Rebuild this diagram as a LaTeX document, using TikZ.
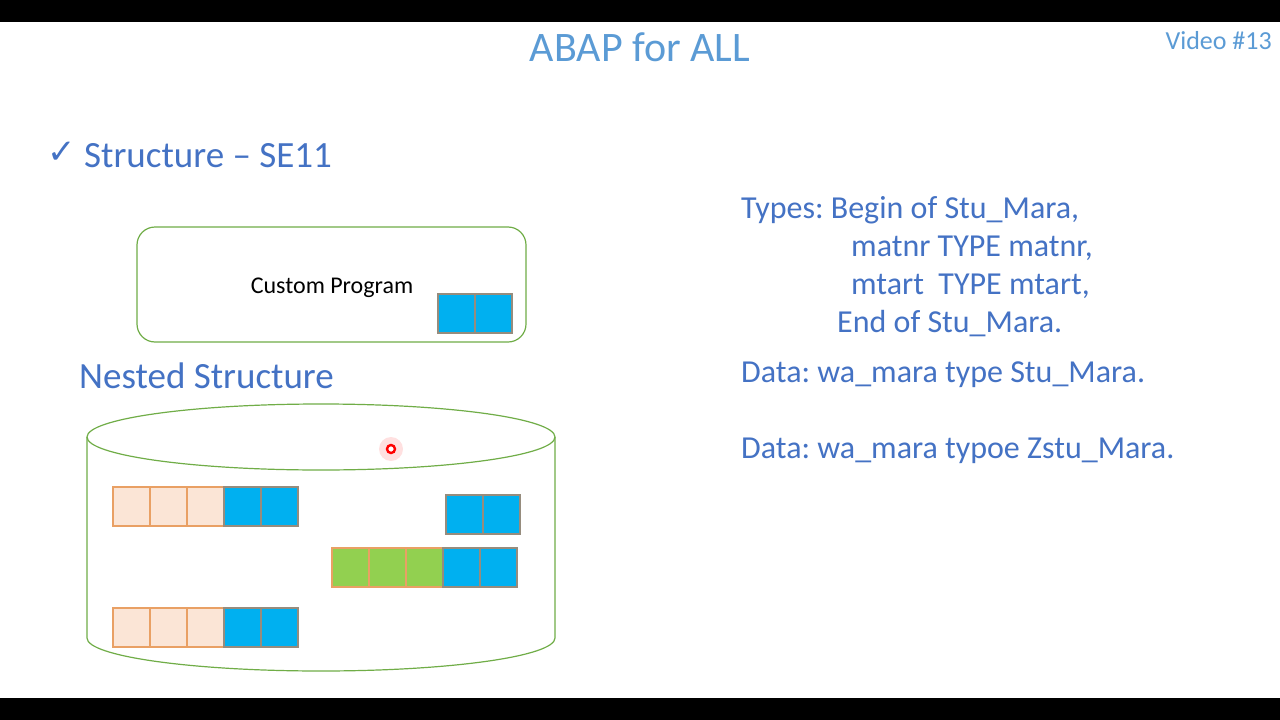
\documentclass[tikz,border=0pt]{standalone}
\usepackage{fontspec}
\setmainfont{Carlito}
\newfontfamily\symfont{DejaVu Sans}
\usetikzlibrary{positioning,shapes.geometric}
\frenchspacing

\definecolor{slideblue}{RGB}{68,114,196}
\definecolor{titleblue}{RGB}{91,155,213}
\definecolor{boxgreen}{RGB}{112,173,71}
\definecolor{cellblue}{RGB}{0,176,240}
\definecolor{cellpeach}{RGB}{251,229,214}
\definecolor{cellgreen}{RGB}{146,208,80}
\definecolor{cellorange}{RGB}{233,160,100}
\definecolor{cellgray}{RGB}{150,140,125}

\begin{document}
\begin{tikzpicture}[
        x=1pt, y=-1pt,
        cell/.style={draw, line width=1.3pt, minimum width=37pt, minimum height=39pt, inner sep=0pt, outer sep=0pt, anchor=north west},
        keycell/.style={cell, draw=cellgray, fill=cellblue},
        peachcell/.style={cell, draw=cellorange, fill=cellpeach},
        greencell/.style={cell, draw=cellorange, fill=cellgreen},
        heading/.style={font=\fontsize{37}{44}\selectfont, text=slideblue, inner sep=0pt, anchor=base west},
        codeline/.style={font=\fontsize{32}{38}\selectfont, text=slideblue, inner sep=0pt, anchor=base west}
    ]
        % Page
        \useasboundingbox (0,0) rectangle (1280,720);
        \fill[white] (0,0) rectangle (1280,720);
        \fill[black] (0,0) rectangle (1280,22);
        \fill[black] (0,698) rectangle (1280,720);

        % Titles
        \node (title) [anchor=base, inner sep=0pt, text=titleblue, font=\fontsize{42}{48}\selectfont] at (640,61) {ABAP for ALL};
        \node (video) [anchor=base east, inner sep=0pt, text=titleblue, font=\fontsize{26}{30}\selectfont] at (1272,49) {Video \#13};
        \node (tick) [anchor=base west, inner sep=0pt, text=slideblue, font=\symfont\fontsize{34}{38}\selectfont] at (47,163) {✓};
        \node (se11) [heading] at (84,167) {Structure – SE11};
        \node (nested) [heading] at (79,388) {Nested Structure};

        % Custom program
        \node (prog) [draw=boxgreen, line width=1.2pt, rounded corners=18pt, minimum width=389pt, minimum height=115pt] at (331.5,284.5) {};
        \node (progtext) [font=\fontsize{24}{28}\selectfont, inner sep=0pt, anchor=base] at (332,293) {Custom Program};
        \foreach \k in {0,1}
            \node (pc\k) [keycell] at (438+37*\k,294) {};

        % Database
        \draw[boxgreen, line width=1.2pt] (321,437) ellipse [x radius=234, y radius=33];
        \draw[boxgreen, line width=1.2pt] (87,437) -- (87,638) arc[start angle=180, end angle=0, x radius=234, y radius=33] -- (555,437);

        % Rows
        \foreach \k in {0,1,2}
            \node (ra\k) [peachcell] at (113+37*\k,487) {};
        \foreach \k in {3,4}
            \node (ra\k) [keycell] at (113+37*\k,487) {};
        \foreach \k in {0,1}
            \node (rb\k) [keycell] at (446+37*\k,495) {};
        \foreach \k in {0,1,2}
            \node (rc\k) [greencell] at (332+37*\k,548) {};
        \foreach \k in {3,4}
            \node (rc\k) [keycell] at (332+37*\k,548) {};
        \foreach \k in {0,1,2}
            \node (rd\k) [peachcell] at (113+37*\k,608) {};
        \foreach \k in {3,4}
            \node (rd\k) [keycell] at (113+37*\k,608) {};

        % Pointer
        \fill[red, opacity=0.12] (391,449) circle (12);
        \node (pointer) [circle, draw=red, line width=2.4pt, fill=white, minimum size=8pt, inner sep=0pt] at (391,449) {};

        % Code
        \node (types) [codeline] at (741,218) {Types: Begin of Stu\_Mara,};
        \node (fielda) [codeline] at (851,256) {matnr TYPE matnr,};
        \node (fieldb) [codeline] at (851,294) {mtart\ \ TYPE mtart,};
        \node (typesend) [codeline] at (837,332) {End of Stu\_Mara.};
        \node (dataa) [codeline] at (741,382) {Data: wa\_mara type Stu\_Mara.};
        \node (datab) [codeline] at (741,458) {Data: wa\_mara typoe Zstu\_Mara.};
    \end{tikzpicture}
\end{document}
